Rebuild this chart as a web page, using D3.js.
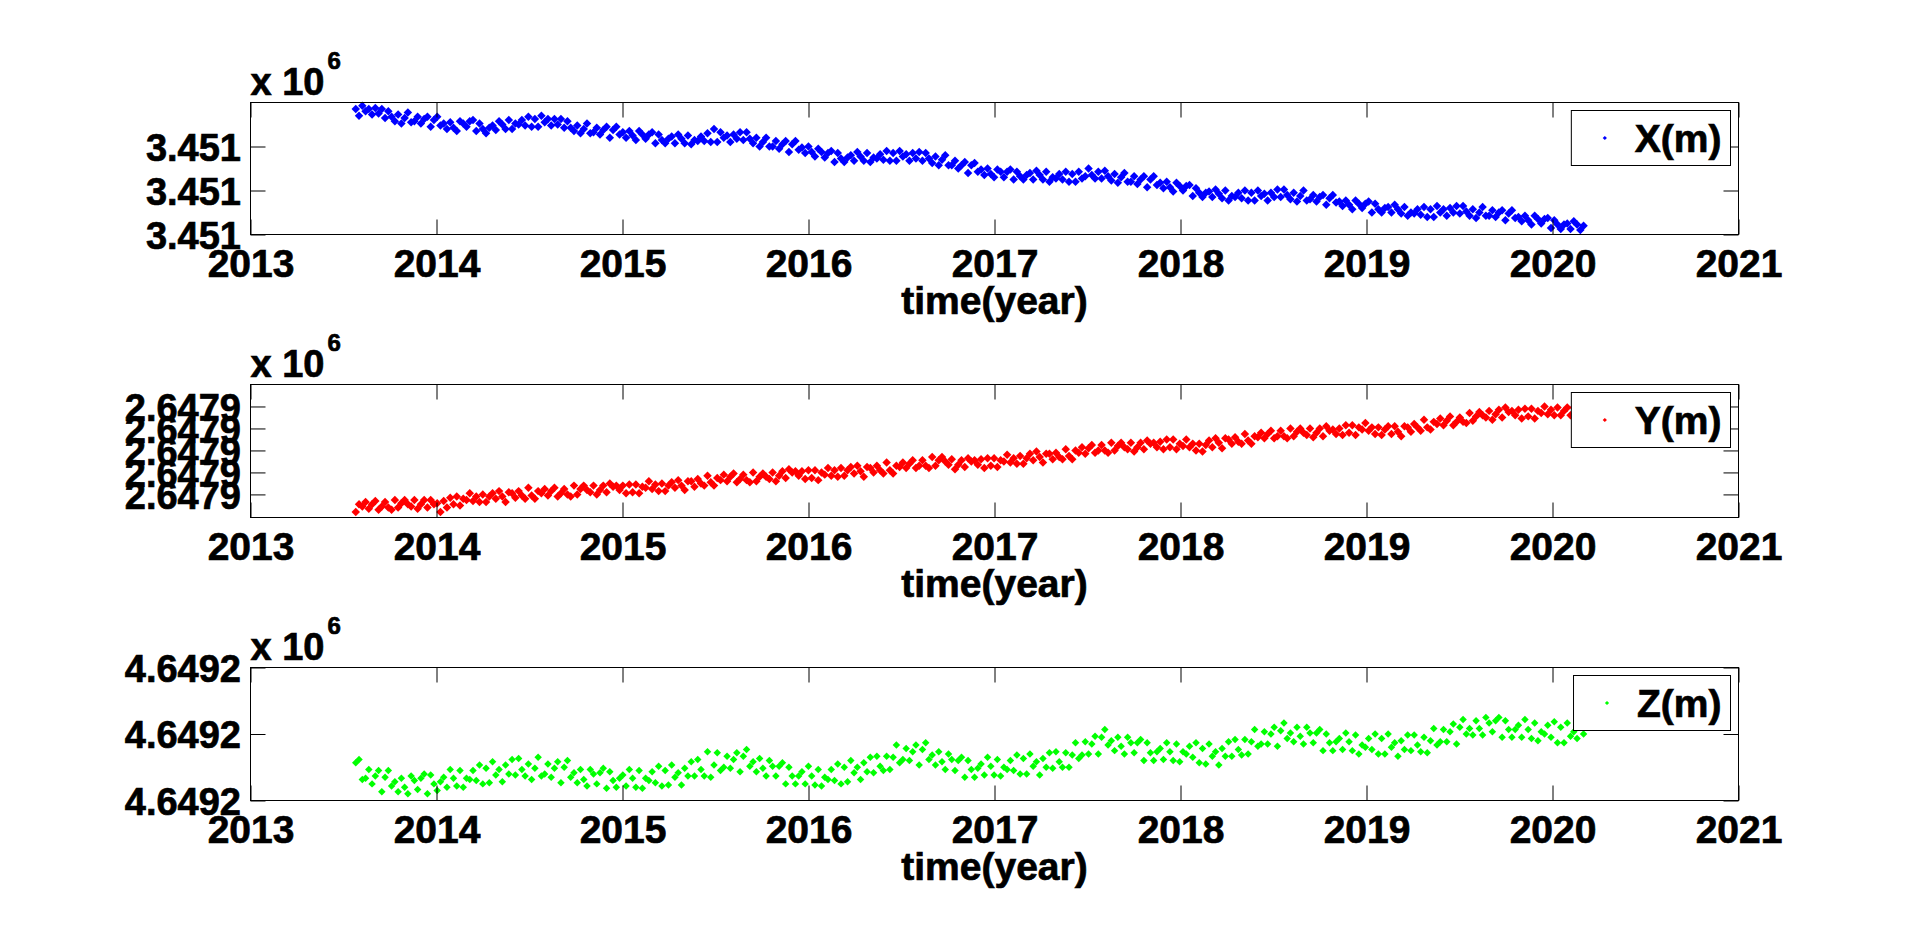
<!DOCTYPE html>
<html><head><meta charset="utf-8">
<script src="https://cdn.jsdelivr.net/npm/d3@7"></script>
<style>
html,body{margin:0;padding:0;background:#fff;overflow:hidden}
text{font-family:"Liberation Sans",Arial,Helvetica,sans-serif;font-weight:bold;fill:#000;stroke:#000;stroke-width:0.7px}
</style>
</head><body>
<svg id="chart" width="1920" height="944"></svg>
<script>
// ---- data (position offsets in mm, sampled evenly between first and last epoch) ----
const startYear = 2013.566;
const endYear = 2020.167;
const yearTicks = [2013, 2014, 2015, 2016, 2017, 2018, 2019, 2020, 2021];
const yearLabels = ["2013", "2014", "2015", "2016", "2017", "2018", "2019", "2020", "2021"];
const xlabelText = "time(year)";
const exponentText = ["x 10", "6"];
const seriesNames = ["X(m)", "Y(m)", "Z(m)"];

const seriesX = [
114,108,117,112,114, 109,115,110,114,106, 112,107,103,109,101, 106,111,102,103,107, 101,105,107,98,104,
107,99,101,96,102, 97,94,103,101,98, 103,104,94,101,96, 92,97,99,95,103, 100,96,104,96,101,
100,104,99,107,98, 105,98,108,102,105, 99,105,100,105,97, 103,97,94,99,92, 96,101,92,93,97,
91,95,98,88,95, 98,91,93,88,94, 90,86,94,91,87, 91,93,83,91,86, 83,87,89,83,91,
87,83,90,82,86, 85,89,85,92,84, 96,84,93,88,90, 84,91,87,93,86, 93,87,83,88,80,
84,88,80,80,85, 78,82,85,75,82, 85,77,79,74,80, 75,71,78,75,70, 74,76,66,74,69,
66,70,72,67,75, 71,67,74,66,70, 69,73,68,76,67, 74,67,76,71,73, 67,74,69,75,67,
74,69,65,71,63, 68,72,63,63,67, 60,63,66,56,63, 65,57,59,54,60, 55,52,59,57,52,
57,59,50,57,53, 50,54,56,50,58, 54,50,57,48,52, 51,55,50,57,48, 55,48,57,51,53,
60,54,51,57,51, 58,53,49,55,47, 52,56,48,48,53, 46,50,53,43,50, 53,45,47,42,48,
43,39,47,44,40, 44,45,35,42,38, 34,38,39,34,41, 37,33,40,31,35, 34,38,33,40,31,
38,31,40,35,37, 31,38,34,41,34, 41,36,32,38,30, 35,40,31,32,36, 30,34,36,27,33,
36,29,30,26,31, 27,23,31,28,24, 28,30,20,28,23, 20,24,25,20,27, 23,19,25,17,20,
19,23,18,25,16, 23,16,26,20,23, 17,24,20,26,19, 26,21,17,23,15, 20,25,17,17,22,
16,20,22,13,19, 22,15,16,12,17, 13,9,17,14,10, 14,15,6,13,9, 5,9,10,5,12,
9,4,8
];

const seriesY = [
-16,-9,-11,-7,-13, -9,-6,-14,-11,-7, -12,-14,-5,-12,-8, -5,-9,-11,-5,-13, -9,-5,-12,-5,-9,
-8,-16,-6,-12,-3, -9,-2,-10,-4,-5, 1,-6,-2,-7,0, -7,-2,1,-4,3, -2,-7,2,1,-3,
3,-1,-4,6,-1, -4,3,1,5,-1, 3,6,-2,1,5, 0,-2,8,0,5, 8,4,2,8,0,
4,8,2,10,7, 8,4,8,1,9, 2,9,1,7,6, 12,5,9,3,10, 3,8,11,6,13,
8,4,12,12,7, 14,10,8,17,11, 8,15,13,18,12, 16,19,11,14,18, 13,11,20,12,16,
19,16,14,20,12, 17,21,15,23,20, 21,17,21,14,22, 15,22,13,20,18, 24,17,22,16,24,
17,22,25,19,26, 21,16,25,24,20, 26,22,19,29,22, 19,26,25,29,24, 28,31,24,26,31,
26,24,34,26,31, 34,30,27,32,23, 27,31,25,33,30, 31,27,32,24,33, 26,33,25,31,30,
36,29,33,28,35, 28,33,37,31,39, 34,29,37,37,32, 38,34,32,41,35, 32,40,38,43,37,
42,45,38,40,45, 40,38,47,40,44, 47,43,41,47,39, 43,47,41,49,46, 47,43,48,41,50,
43,50,41,46,44, 50,43,46,40,46, 39,45,49,43,51, 47,42,51,50,46, 52,48,46,55,49,
46,53,52,56,51, 55,58,51,53,58, 53,51,60,53,57, 60,56,54,60,52, 56,60,53,62,58,
59,55,60,54,63, 56,63,54,61,59, 65,58,61,55,61, 54,59,62,55,62, 57,53,62,61,57,
64,61,58,68,61, 59,66,64,69,63, 67,71,63,66,70, 66,65,74,67,71, 75,72,70,76,68,
73,77,70,79,75, 76,72,77,69,78, 71,78,69,76,74, 80,73,77,72,79, 72,76,79,72,79,
75,70,75
];

const seriesZ = [
34,37,19,20,28, 15,22,27,8,21, 27,13,17,8,20, 12,6,22,18,10, 20,24,6,23,15,
9,17,21,12,28, 20,13,27,12,20, 19,27,18,32,15, 29,16,35,23,28, 17,32,24,37,23,
38,28,22,33,19, 29,39,22,24,33, 21,29,35,16,30, 36,21,25,16,28, 19,13,28,24,15,
25,29,11,26,18, 12,20,23,13,28, 20,12,27,11,20, 18,26,16,31,13, 27,14,32,21,25,
14,29,22,35,22, 37,28,22,44,21, 32,43,27,30,40, 29,37,43,26,40, 46,31,35,26,38,
29,22,36,31,22, 31,34,15,30,22, 15,22,26,15,31, 22,14,28,13,21, 19,28,18,33,15,
30,17,36,25,30, 19,34,26,39,25, 40,31,27,40,28, 39,50,34,37,47, 36,44,50,32,46,
52,37,41,32,44, 35,28,42,37,27, 36,39,21,36,28, 21,29,33,23,39, 31,23,37,22,30,
28,36,27,41,24, 38,24,42,31,35, 23,38,30,43,29, 44,35,30,43,30, 41,52,38,41,53,
42,51,58,42,57, 64,50,54,45,57, 49,42,57,52,43, 52,55,36,52,43, 36,44,47,37,52,
44,36,51,35,44, 42,49,39,52,34, 47,33,51,40,44, 32,47,40,53,40, 55,46,41,55,42,
53,64,49,51,62, 51,60,66,49,63, 70,56,61,53,66, 58,51,66,61,52, 61,64,45,60,52,
45,53,56,46,61, 53,45,59,42,50, 48,56,46,60,42, 56,42,60,48,52, 40,54,46,59,45,
59,50,44,57,43, 54,65,50,53,64, 53,62,69,51,66, 73,60,65,59,72, 65,59,75,70,62,
72,75,57,72,64, 57,64,68,57,73, 64,56,70,54,62, 60,68,57,71,52, 66,52,70,58,62,
56,66,60
];

// y-axis domains (mm offsets) and ticks
const domainX = [0, 120];
const ticksX = [0, 40, 80];
const tickLabelsX = ["3.451", "3.451", "3.451"];
const domainY = [-21, 100];
const ticksY = [0, 20, 40, 60, 80];
const tickLabelsY = ["2.6479", "2.6479", "2.6479", "2.6479", "2.6479"];
const domainZ = [0, 120];
const ticksZ = [0, 60, 120];
const tickLabelsZ = ["4.6492", "4.6492", "4.6492"];
const colors = ["#0000ff", "#ff0000", "#00ff00"];

// ---- layout ----
const svg = d3.select("#chart");
const L = 250.5, R = 1738.5;
const tickLen = 15;
const panels = [
  {top: 102.5, bottom: 234.5, data: seriesX, domain: domainX, ticks: ticksX, labels: tickLabelsX, color: colors[0], name: seriesNames[0], msize: 36},
  {top: 384.5, bottom: 517.5, data: seriesY, domain: domainY, ticks: ticksY, labels: tickLabelsY, color: colors[1], name: seriesNames[1], msize: 36},
  {top: 667.5, bottom: 800.5, data: seriesZ, domain: domainZ, ticks: ticksZ, labels: tickLabelsZ, color: colors[2], name: seriesNames[2], msize: 28}
];

const xs = d3.scaleLinear().domain([yearTicks[0], yearTicks[yearTicks.length - 1]]).range([L, R]);
const legendMarker = d3.symbol(d3.symbolSquare, 9);

function styleAxis(g, size) {
  g.attr("font-family", null).attr("font-size", size);
  g.selectAll("text").attr("font-size", size);
  g.select(".domain").remove();
}

panels.forEach(p => {
  const ys = d3.scaleLinear().domain(p.domain).range([p.bottom, p.top]);
  const n = p.data.length;
  const pts = p.data.map((v, i) => ({t: startYear + i * (endYear - startYear) / (n - 1), v}));
  const marker = d3.symbol(d3.symbolSquare, p.msize);

  // points
  svg.append("g").selectAll("path").data(pts).join("path")
    .attr("d", marker)
    .attr("transform", d => `translate(${xs(d.t)},${ys(d.v)}) rotate(45)`)
    .attr("fill", p.color);

  // box
  svg.append("rect").attr("x", L).attr("y", p.top).attr("width", R - L).attr("height", p.bottom - p.top)
    .attr("fill", "none").attr("stroke", "#000").attr("stroke-width", 1);

  // bottom axis with labels
  const gb = svg.append("g").attr("transform", `translate(0,${p.bottom})`)
    .call(d3.axisBottom(xs).tickValues(yearTicks).tickFormat((d, i) => yearLabels[i]).tickSize(-tickLen).tickPadding(14.5));
  styleAxis(gb, 39);
  // top axis (ticks only)
  const gt = svg.append("g").attr("transform", `translate(0,${p.top})`)
    .call(d3.axisTop(xs).tickValues(yearTicks).tickFormat("").tickSize(-tickLen));
  styleAxis(gt, 10);
  // left axis
  const gl = svg.append("g").attr("transform", `translate(${L},0)`)
    .call(d3.axisLeft(ys).tickValues(p.ticks).tickFormat((d, i) => p.labels[i]).tickSize(-tickLen).tickPadding(9.5));
  styleAxis(gl, 38);
  gl.selectAll("text").attr("dy", "0.36em");
  // right axis
  const gr = svg.append("g").attr("transform", `translate(${R},0)`)
    .call(d3.axisRight(ys).tickValues(p.ticks).tickFormat("").tickSize(-tickLen));
  styleAxis(gr, 10);
  [gb, gt, gl, gr].forEach(g => g.selectAll("line").attr("stroke", "#000"));

  // x label
  svg.append("text").attr("x", (L + R) / 2).attr("y", p.bottom + 79)
    .attr("text-anchor", "middle").attr("font-size", 39).text(xlabelText);

  // exponent
  const ex = svg.append("text").attr("x", L).attr("y", p.top - 7.5).attr("font-size", 38).text(exponentText[0]);
  const ew = ex.node().getComputedTextLength();
  svg.append("text").attr("x", L + ew + 3).attr("y", p.top - 34).attr("font-size", 24).text(exponentText[1]);

  // legend
  const lg = svg.append("g");
  const boxTop = p.top + 8, boxH = 55, boxRight = R - 8;
  const txt = lg.append("text").attr("x", boxRight - 9).attr("y", boxTop + boxH / 2 + 14)
    .attr("text-anchor", "end").attr("font-size", 39).text(p.name);
  const tw = txt.node().getComputedTextLength();
  const mx = boxRight - 9 - tw - 30;
  lg.insert("rect", "text").attr("x", mx - 33.5).attr("y", boxTop)
    .attr("width", boxRight - (mx - 33.5)).attr("height", boxH)
    .attr("fill", "#fff").attr("stroke", "#000").attr("stroke-width", 1);
  lg.append("path").attr("d", legendMarker)
    .attr("transform", `translate(${mx},${boxTop + boxH / 2}) rotate(45)`)
    .attr("fill", p.color);
});
</script>
</body></html>
